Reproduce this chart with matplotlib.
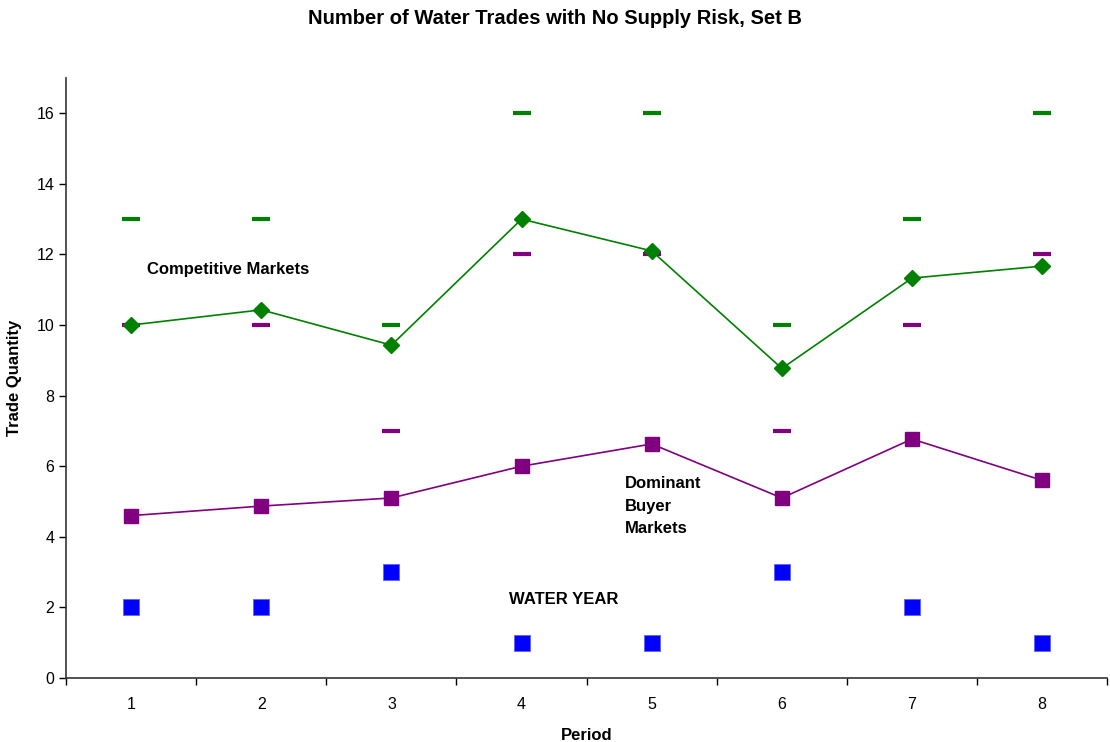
import matplotlib
matplotlib.use("Agg")
import matplotlib.pyplot as plt
import numpy as np

plt.rcParams['font.family'] = ['Liberation Sans', 'DejaVu Sans']

periods = [1, 2, 3, 4, 5, 6, 7, 8]
comp_avg = [10.0, 10.43, 9.43, 13.0, 12.1, 8.77, 11.33, 11.67]
dom_avg = [4.6, 4.87, 5.1, 6.0, 6.63, 5.1, 6.77, 5.6]
comp_pred = [13, 13, 10, 16, 16, 10, 13, 16]
dom_pred = [10, 10, 7, 12, 12, 7, 10, 12]
water_year = [2, 2, 3, 1, 1, 3, 2, 1]

fig = plt.figure(figsize=(11.1, 7.42), dpi=100)
ax = fig.add_axes([0.0595, 0.0863, 0.938, 0.8086])

ax.plot(periods, comp_pred, linestyle='none', marker='_', color='#008000',
        markersize=12.5, markeredgewidth=3, zorder=3)
ax.plot(periods, dom_pred, linestyle='none', marker='_', color='#800080',
        markersize=12.5, markeredgewidth=3, zorder=3)
ax.plot(periods, comp_avg, color='#008000', linewidth=1.2, marker='D',
        markersize=8, zorder=4)
ax.plot(periods, dom_avg, color='#800080', linewidth=1.2, marker='s',
        markersize=10, zorder=4)
ax.plot(periods, water_year, linestyle='none', marker='s', color='#0000FF',
        markersize=11, markeredgecolor='#6060ff', markeredgewidth=0.6, zorder=4)

ax.text(1.12, 11.56, "Competitive Markets", fontsize=12, fontweight='bold',
        va='center', ha='left')
ax.text(4.79, 4.87, "Dominant\nBuyer\nMarkets", fontsize=12, fontweight='bold',
        va='center', ha='left', linespacing=1.6)
ax.text(3.9, 2.21, "WATER YEAR", fontsize=12, fontweight='bold',
        va='center', ha='left')

ax.set_xlim(0.5, 8.5)
ax.set_ylim(0, 17)
ax.set_yticks(np.arange(0, 17, 2))
ax.set_xticks(periods)
ax.set_xticks(np.arange(0.5, 9, 1), minor=True)
ax.tick_params(axis='x', which='major', length=0, labelsize=11.5, pad=14)
ax.tick_params(axis='x', which='minor', length=5, direction='out', width=1)
ax.tick_params(axis='y', length=5, direction='out', labelsize=11.5, width=1)

for s in ['top', 'right']:
    ax.spines[s].set_visible(False)
for s in ['left', 'bottom']:
    ax.spines[s].set_linewidth(1.2)
    ax.spines[s].set_color('#333333')

ax.set_xlabel("Period", fontsize=12, fontweight='bold', labelpad=11)
ax.set_ylabel("Trade Quantity", fontsize=12, fontweight='bold', labelpad=10)
fig.suptitle("Number of Water Trades with No Supply Risk, Set B", fontsize=14.5,
             fontweight='bold', y=0.988)

fig.savefig("out.png", dpi=100)
